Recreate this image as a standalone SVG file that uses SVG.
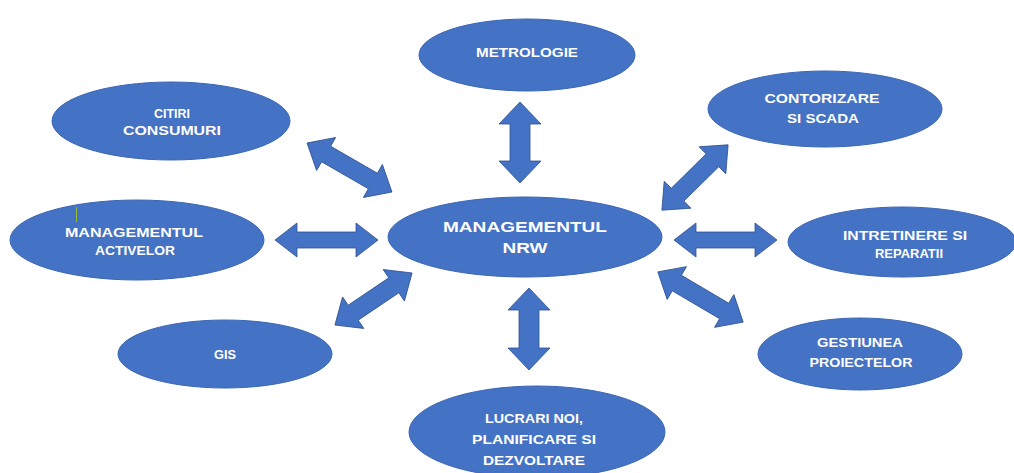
<svg xmlns="http://www.w3.org/2000/svg" width="1014" height="473" viewBox="0 0 1014 473">
<style>
.n{fill:#4472C4;stroke:#3b66b5;stroke-width:1}
.a{fill:#4472C4;stroke:#2F528F;stroke-width:0.8}
.t{font-family:"Liberation Sans",Arial,sans-serif;font-weight:bold;fill:#ffffff;text-anchor:middle;font-size:12.5px}
.tb{font-size:14px}
</style>
<rect width="1014" height="473" fill="#ffffff"/>
<g id="connectors">
<path class="a" transform="translate(520,142.5) rotate(90)" d="M-40.5,0 L-18.5,-21 L-18.5,-10 L18.5,-10 L18.5,-21 L40.5,0 L18.5,21 L18.5,10 L-18.5,10 L-18.5,21 Z"/>
<path class="a" transform="translate(529,329) rotate(90)" d="M-41,0 L-19,-21 L-19,-10 L19,-10 L19,-21 L41,0 L19,21 L19,10 L-19,10 L-19,21 Z"/>
<path class="a" transform="translate(326.5,240)" d="M-51.5,0 L-29.5,-17 L-29.5,-8 L29.5,-8 L29.5,-17 L51.5,0 L29.5,17 L29.5,8 L-29.5,8 L-29.5,17 Z"/>
<path class="a" transform="translate(725.5,240)" d="M-51.5,0 L-29.5,-17 L-29.5,-8 L29.5,-8 L29.5,-17 L51.5,0 L29.5,17 L29.5,8 L-29.5,8 L-29.5,17 Z"/>
<path class="a" transform="translate(349.5,167.5) rotate(30)" d="M-49,0 L-27,-19 L-27,-9 L27,-9 L27,-19 L49,0 L27,19 L27,9 L-27,9 L-27,19 Z"/>
<path class="a" transform="translate(695,177.5) rotate(-44.6)" d="M-46.5,0 L-24.5,-19 L-24.5,-9 L24.5,-9 L24.5,-19 L46.5,0 L24.5,19 L24.5,9 L-24.5,9 L-24.5,19 Z"/>
<path class="a" transform="translate(373.5,299) rotate(-34)" d="M-46.5,0 L-24.5,-19 L-24.5,-9 L24.5,-9 L24.5,-19 L46.5,0 L24.5,19 L24.5,9 L-24.5,9 L-24.5,19 Z"/>
<path class="a" transform="translate(700.5,297) rotate(30.5)" d="M-49.5,0 L-27.5,-19 L-27.5,-9 L27.5,-9 L27.5,-19 L49.5,0 L27.5,19 L27.5,9 L-27.5,9 L-27.5,19 Z"/>
</g>
<g id="center">
<ellipse class="n" cx="525" cy="237" rx="137" ry="40"/>
<text class="t tb" x="525" y="232" textLength="164" lengthAdjust="spacingAndGlyphs">MANAGEMENTUL</text>
<text class="t tb" x="525" y="253" textLength="45" lengthAdjust="spacingAndGlyphs">NRW</text>
</g>
<g id="metrologie">
<ellipse class="n" cx="527" cy="55" rx="108" ry="36"/>
<text class="t" x="527" y="57" textLength="102" lengthAdjust="spacingAndGlyphs">METROLOGIE</text>
</g>
<g id="citiri">
<ellipse class="n" cx="171" cy="121" rx="119" ry="39"/>
<text class="t" x="172" y="118" textLength="36" lengthAdjust="spacingAndGlyphs">CITIRI</text>
<text class="t" x="172" y="135" textLength="98" lengthAdjust="spacingAndGlyphs">CONSUMURI</text>
</g>
<g id="contorizare">
<ellipse class="n" cx="825" cy="109" rx="117" ry="38"/>
<text class="t" x="822" y="103" textLength="115" lengthAdjust="spacingAndGlyphs">CONTORIZARE</text>
<text class="t" x="823" y="123" textLength="72" lengthAdjust="spacingAndGlyphs">SI SCADA</text>
</g>
<g id="activelor">
<ellipse class="n" cx="137" cy="240" rx="127" ry="40"/>
<text class="t" x="134" y="237" textLength="138" lengthAdjust="spacingAndGlyphs">MANAGEMENTUL</text>
<text class="t" x="135" y="255" textLength="80" lengthAdjust="spacingAndGlyphs">ACTIVELOR</text>
<line x1="76.5" y1="207" x2="76.5" y2="222" stroke="#9ab83a" stroke-width="1"/>
</g>
<g id="intretinere">
<ellipse class="n" cx="902" cy="242" rx="114" ry="35"/>
<text class="t" x="905" y="240" textLength="124" lengthAdjust="spacingAndGlyphs">INTRETINERE  SI</text>
<text class="t" x="909" y="258" textLength="68" lengthAdjust="spacingAndGlyphs">REPARATII</text>
</g>
<g id="gis">
<ellipse class="n" cx="225" cy="354" rx="107" ry="34"/>
<text class="t" x="225" y="359" textLength="22" lengthAdjust="spacingAndGlyphs">GIS</text>
</g>
<g id="gestiunea">
<ellipse class="n" cx="860" cy="354" rx="102" ry="36"/>
<text class="t" x="860" y="347" textLength="86" lengthAdjust="spacingAndGlyphs">GESTIUNEA</text>
<text class="t" x="861" y="367" textLength="103" lengthAdjust="spacingAndGlyphs">PROIECTELOR</text>
</g>
<g id="lucrari">
<ellipse class="n" cx="537" cy="432" rx="128" ry="46"/>
<text class="t" x="534" y="423" textLength="98" lengthAdjust="spacingAndGlyphs">LUCRARI NOI,</text>
<text class="t" x="534" y="444" textLength="124" lengthAdjust="spacingAndGlyphs">PLANIFICARE SI</text>
<text class="t" x="534" y="465" textLength="102" lengthAdjust="spacingAndGlyphs">DEZVOLTARE</text>
</g>
</svg>
